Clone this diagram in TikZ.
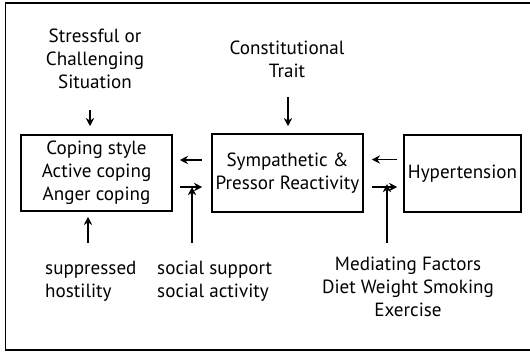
\documentclass[tikz,border=0pt]{standalone}
\usepackage{fontspec}
\setmainfont{PT Sans}
\usetikzlibrary{arrows.meta,positioning,calc}
\tikzset{stage/.style={draw=black, rectangle, line width=1.3pt, align=center, inner sep=0pt}}
\tikzset{factor/.style={align=center, inner sep=0pt}}
\tikzset{arr/.style={-{Stealth[length=7pt,width=7pt]}, line width=1.2pt}}

\begin{document}
\begin{tikzpicture}[x=0.03cm, y=-0.03cm, font=\fontsize{16.3}{19.8}\selectfont]
\useasboundingbox (0,0) rectangle (530,352);
\draw[line width=1.3pt] (534,3) -- (5.5,3) -- (5.5,350) -- (534,350);

\node[stage, minimum width=4.53cm, minimum height=2.28cm] (coping) at (96.5,173) {Coping style\\Active coping\\Anger coping};
\node[stage, minimum width=4.53cm, minimum height=2.34cm] (sympa) at (287.5,173) {Sympathetic \&\\Pressor Reactivity};
\node[stage, minimum width=3.51cm, minimum height=2.31cm] (hyper) at (462.5,173.5) {Hypertension};

\node[factor] (stress) at (95,59) {Stressful or\\Challenging\\Situation};
\node[factor] (trait) at (287,59) {Constitutional\\Trait};
\node[factor, align=left, anchor=west] (hostil) at (45,281) {suppressed\\hostility};
\node[factor, align=left, anchor=west] (social) at (157,281) {social support\\social activity};
\node[factor] (mediat) at (408,287) {Mediating Factors\\Diet Weight Smoking\\Exercise};

% top arrows
\coordinate (stressarrow) at (90,110);
\coordinate (traitarrow) at (288,97);
\draw[arr, shorten >=0.24cm] (stressarrow) -- (stressarrow |- coping.north);
\draw[arr, shorten >=0.21cm] (traitarrow) -- (traitarrow |- sympa.north);

% between the boxes
\coordinate (cpback) at ($(coping.east)+(0,-13)$);
\coordinate (cpfwd) at ($(coping.east)+(0,14)$);
\coordinate (hyback) at ($(hyper.west)+(0,-14)$);
\coordinate (hyfwd) at ($(hyper.west)+(0,13.5)$);
\draw[arr, shorten <=0.27cm, shorten >=0.21cm] (cpback -| sympa.west) -- (cpback);
\draw[arr, shorten <=0.21cm, shorten >=0.27cm] (cpfwd) -- (cpfwd -| sympa.west);
\draw[arr, shorten <=0.18cm, shorten >=0.24cm] (hyback) -- (hyback -| sympa.east);
\draw[arr, shorten <=0.24cm, shorten >=0.18cm] (hyfwd -| sympa.east) -- (hyfwd);

% bottom arrows
\coordinate (hostilarrow) at (88,243);
\coordinate (socialarrow) at (192,243);
\coordinate (mediatarrow) at (387,243);
\draw[arr, shorten >=0.15cm] (hostilarrow) -- (hostilarrow |- coping.south);
\draw[arr] (socialarrow) -- (socialarrow |- cpfwd);
\draw[arr] (mediatarrow) -- ($(mediatarrow |- hyfwd)+(0,-3)$);
\end{tikzpicture}
\end{document}
